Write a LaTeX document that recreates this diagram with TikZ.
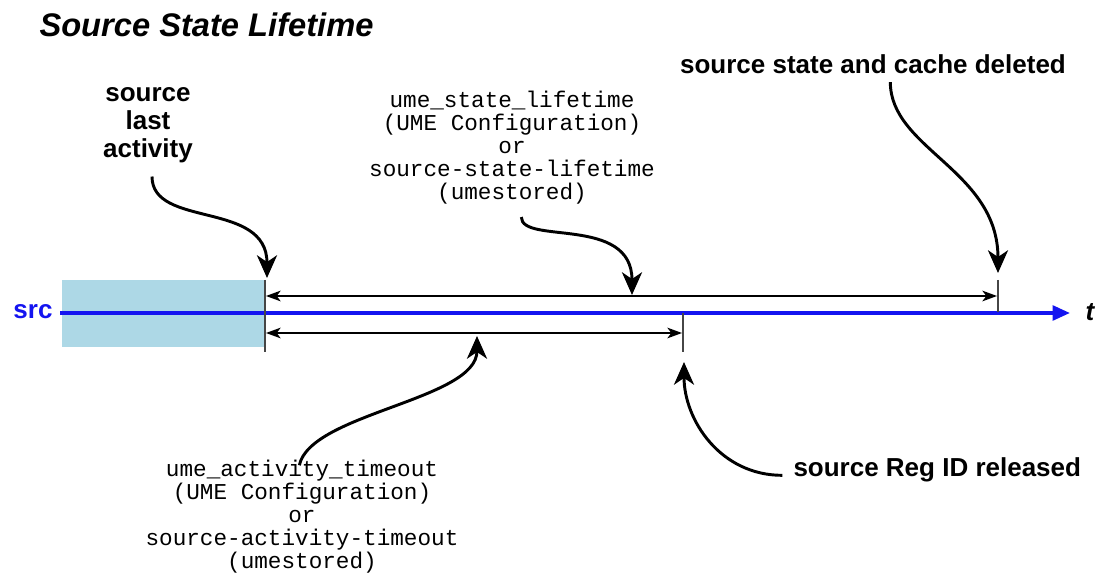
\documentclass[tikz,border=0pt]{standalone}
\usepackage{fontspec}
\setmainfont{Liberation Sans}
\setmonofont{Liberation Mono}
\usetikzlibrary{arrows.meta}

\definecolor{srcblue}{RGB}{20,20,240}
\definecolor{boxblue}{RGB}{173,216,230}
\definecolor{tickgray}{RGB}{70,70,70}

\tikzset{every picture/.style={line width=0.75pt}}
\tikzset{
  bold label/.style={font=\fontsize{19.5}{21}\selectfont\bfseries, inner sep=0pt, align=center},
  mono label/.style={font=\fontsize{17}{17.25}\selectfont\ttfamily, inner sep=0pt, align=center},
  big arrow/.style={line width=2.2pt, -{Stealth[length=17pt,width=15pt,inset=5pt]}},
  span arrow/.style={line width=1pt, {Stealth[length=11pt,width=8pt,inset=3pt]}-{Stealth[length=11pt,width=8pt,inset=3pt]}},
  tick line/.style={line width=1.1pt, draw=tickgray}
}

\begin{document}
\begin{tikzpicture}[x=0.75pt,y=0.75pt,yscale=-1,xscale=1]
\useasboundingbox (0,0) rectangle (1100,577);

% Text Node
\node (title) [anchor=west, font=\fontsize{24.5}{28}\selectfont\bfseries\itshape, inner sep=0pt] at (39,25) {Source State Lifetime};
% Text Node
\node (lastact) [bold label] at (148,125) {source\\last\\activity};
% Text Node
\node (stlife) [mono label] at (512,148) {ume\_state\_lifetime\\(UME Configuration)\\or\\source-state-lifetime\\(umestored)};
% Text Node
\node (deleted) [bold label] at (873,64) {source state and cache deleted};
% Text Node
\node (acttime) [mono label] at (302,517) {ume\_activity\_timeout\\(UME Configuration)\\or\\source-activity-timeout\\(umestored)};
% Text Node
\node (regid) [bold label, anchor=west] at (793,470) {source Reg ID released};
% Text Node
\node (srclbl) [bold label, text=srcblue] at (33,312) {src};
% Text Node
\node (tlbl) [bold label, font=\fontsize{19.5}{21}\selectfont\bfseries\itshape] at (1090,312) {t};

% time line
\fill [boxblue] (62,280) rectangle (265,347);
\coordinate (tstart) at (60,313);
\coordinate (tend) at (1070,313);
\draw [srcblue, line width=2.6pt, -{Triangle[length=13pt,width=11pt]}] (tstart) -- (tend);

% ticks
\coordinate (lastTop) at (265,280);
\coordinate (lastBot) at (265,352);
\coordinate (delTop) at (998,280);
\coordinate (delBot) at (998,312);
\coordinate (regTop) at (683,313);
\coordinate (regBot) at (683,352);
\draw [tick line] (lastTop) -- (lastBot);
\draw [tick line] (delTop) -- (delBot);
\draw [tick line] (regTop) -- (regBot);

% Connection
\coordinate (lifeL) at (266,296);
\coordinate (lifeR) at (997,296);
\draw [span arrow] (lifeL) -- (lifeR);
% Connection
\coordinate (actL) at (266,333);
\coordinate (actR) at (682,333);
\draw [span arrow] (actL) -- (actR);

% Connection
\coordinate (lastTip) at (267,278);
\draw [big arrow] ([xshift=3pt,yshift=10pt]lastact.south) .. controls +(0,52) and +(0,-78) .. (lastTip);
% Connection
\coordinate (lifeTip) at (632,295);
\draw [big arrow] ([xshift=7pt,yshift=9pt]stlife.south) .. controls +(0,28) and +(0,-80) .. (lifeTip);
% Connection
\coordinate (delTip) at (998,273);
\draw [big arrow] ([xshift=13pt,yshift=6pt]deleted.south) .. controls +(0,67) and +(0,-103) .. (delTip);
% Connection
\coordinate (actTip) at (477,336);
\draw [big arrow] ([xshift=-2pt,yshift=4pt]acttime.north) .. controls +(11,-52) and +(0,64) .. (actTip);
% Connection
\coordinate (regTip) at (684,362);
\draw [big arrow] ([xshift=-8pt,yshift=4pt]regid.west) .. controls +(-62,0) and +(0,58) .. (regTip);

\end{tikzpicture}
\end{document}
